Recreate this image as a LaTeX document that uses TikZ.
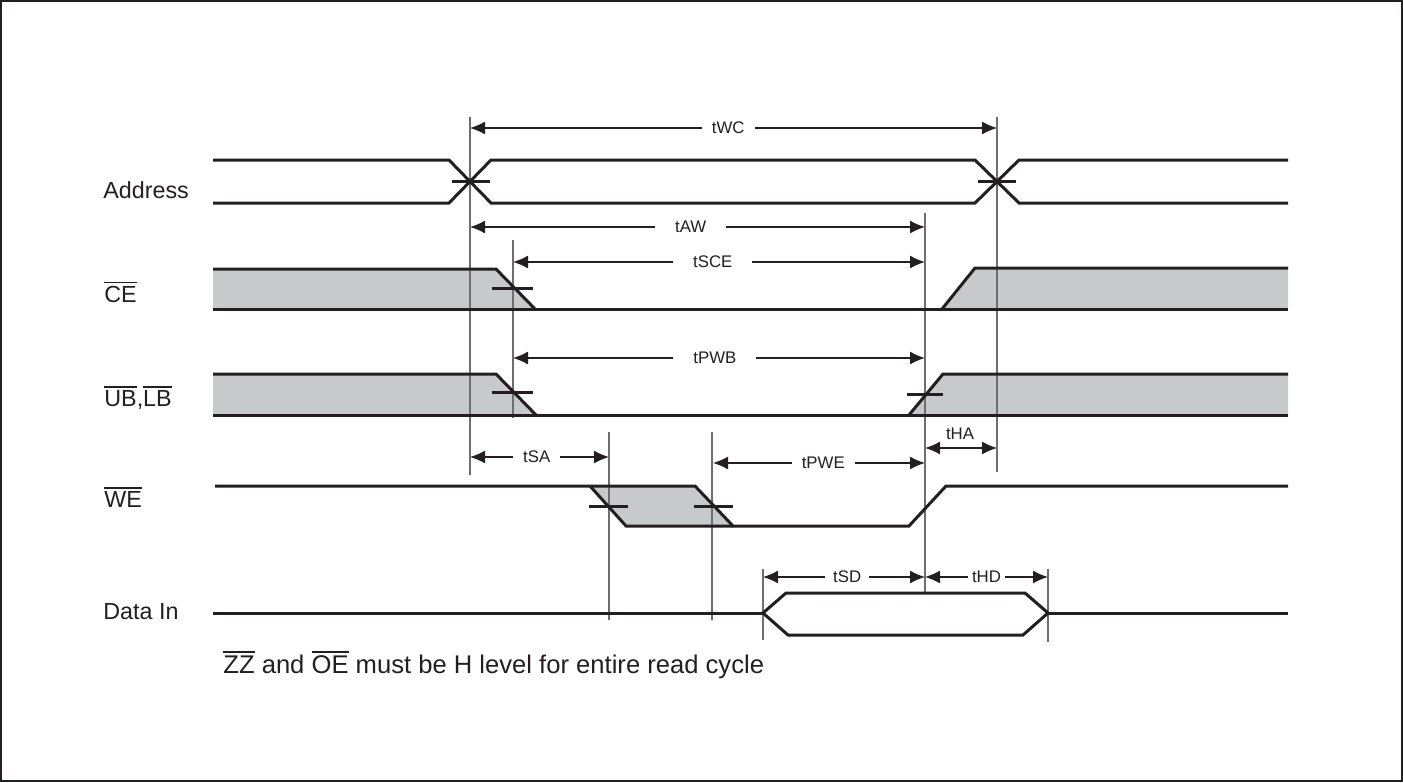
\documentclass[tikz,border=0pt]{standalone}
\usepackage{fontspec}
\setmainfont{Liberation Sans}
\usetikzlibrary{arrows.meta}
\definecolor{sig}{HTML}{231F20}
\definecolor{shadefill}{HTML}{C8C9CB}
\definecolor{guide}{HTML}{6D6E70}
\newcommand{\ovl}[1]{\leavevmode\vbox{\hrule height 0.9pt\kern 1.3pt\hbox{#1}}}
\tikzset{
  wave/.style={draw=sig, line width=1.5pt, line join=miter},
  shd/.style={fill=shadefill},
  tick/.style={draw=sig, line width=1.5pt},
  guideline/.style={draw=guide, line width=0.65pt},
  dim/.style={draw=sig, line width=0.65pt, {Latex[length=7.5pt,width=6.5pt]}-{Latex[length=7.5pt,width=6.5pt]}},
  dimlab/.style={fill=white, inner xsep=5pt, inner ysep=1pt, font=\fontsize{8.4}{10}\selectfont, text=sig},
  siglab/.style={anchor=west, inner sep=0pt, font=\fontsize{11.65}{14}\selectfont, text=sig},
}
\begin{document}
\begin{tikzpicture}[x=0.5pt, y=-0.5pt]
\useasboundingbox (0,0) rectangle (1403,782);
\draw[sig, line width=1pt] (1,1) rectangle (1402,781);

% signal labels
\node[siglab] (lAddr) at (103,190) {Address};
\node[siglab] (lCE) at (104,292) {\ovl{CE}};
\node[siglab] (lUB) at (104,398) {\ovl{UB},\ovl{LB}};
\node[siglab] (lWE) at (104,497) {\ovl{WE}};
\node[siglab] (lDI) at (103,612) {Data In};

% shaded regions
\fill[shd] (213,269) -- (496,269) -- (535,309) -- (213,309) -- cycle;
\fill[shd] (942,309) -- (975,268) -- (1288,268) -- (1288,309) -- cycle;
\fill[shd] (213,374) -- (496,374) -- (536,415) -- (213,415) -- cycle;
\fill[shd] (909,415) -- (943,374) -- (1288,374) -- (1288,415) -- cycle;
\fill[shd] (590,486) -- (695,486) -- (733,526) -- (626,526) -- cycle;

% guide lines
\coordinate (g1t) at (470,117); \coordinate (g1b) at (470,475);
\coordinate (g2t) at (997,117); \coordinate (g2b) at (997,472);
\coordinate (g3t) at (925,213); \coordinate (g3b) at (925,593);
\coordinate (g4t) at (513,240); \coordinate (g4b) at (513,418);
\coordinate (g5t) at (609,432); \coordinate (g5b) at (609,620);
\coordinate (g6t) at (712,432); \coordinate (g6b) at (712,620);
\coordinate (g7t) at (763,569); \coordinate (g7b) at (763,640);
\coordinate (g8t) at (1048,569); \coordinate (g8b) at (1048,642);
\foreach \g in {1,...,8} { \draw[guideline] (g\g t) -- (g\g b); }

% Address
\draw[wave] (213,160) -- (449,160) -- (491,203) -- (975,203) -- (1019,160) -- (1288,160);
\draw[wave] (213,203) -- (449,203) -- (491,160) -- (975,160) -- (1019,203) -- (1288,203);
\draw[tick] (452,181.5) -- (490,181.5);
\draw[tick] (978,181.5) -- (1016,181.5);

% CE
\draw[wave] (213,269) -- (496,269) -- (535,309);
\draw[wave] (213,309) -- (1288,309);
\draw[wave] (942,309) -- (975,268) -- (1288,268);
\draw[tick] (492,288) -- (533,288);

% UB, LB
\draw[wave] (213,374) -- (496,374) -- (536,415);
\draw[wave] (213,415) -- (1288,415);
\draw[wave] (909,415) -- (943,374) -- (1288,374);
\draw[tick] (492,392) -- (533,392);
\draw[tick] (907,394) -- (943,394);

% WE
\draw[wave] (215,486) -- (695,486) -- (733,526) -- (909,526) -- (946,486) -- (1288,486);
\draw[wave] (590,486) -- (626,526) -- (733,526);
\draw[tick] (589,506) -- (628,506);
\draw[tick] (694,506) -- (733,506);

% Data In
\draw[wave] (213,613) -- (763,613);
\draw[wave] (763,613) -- (786,593) -- (1025,593) -- (1048,613) -- (1023,635) -- (788,635) -- cycle;
\draw[wave] (1048,613) -- (1288,613);

% dimension arrows
\coordinate (aWCl) at (470,128); \coordinate (aWCr) at (997,128);
\draw[dim] (aWCl) -- node[dimlab, pos=0.49] (tWC) {tWC} (aWCr);
\coordinate (aAWl) at (470,227); \coordinate (aAWr) at (925,227);
\draw[dim] (aAWl) -- node[dimlab, pos=0.485, inner xsep=10pt] (tAW) {tAW} (aAWr);
\coordinate (aSCEl) at (513,262); \coordinate (aSCEr) at (925,262);
\draw[dim] (aSCEl) -- node[dimlab, pos=0.485, inner xsep=10pt] (tSCE) {tSCE} (aSCEr);
\coordinate (aPWBl) at (513,358); \coordinate (aPWBr) at (925,358);
\draw[dim] (aPWBl) -- node[dimlab, pos=0.49, inner xsep=10pt] (tPWB) {tPWB} (aPWBr);
\coordinate (aSAl) at (470,457); \coordinate (aSAr) at (609,457);
\draw[dim] (aSAl) -- node[dimlab, pos=0.48] (tSA) {tSA} (aSAr);
\coordinate (aPWEl) at (713,463); \coordinate (aPWEr) at (925,463);
\draw[dim] (aPWEl) -- node[dimlab, pos=0.52] (tPWE) {tPWE} (aPWEr);
\coordinate (aHAl) at (925,448); \coordinate (aHAr) at (997,448);
\draw[dim] (aHAl) -- (aHAr);
\node[dimlab, fill=none, inner sep=0pt] (tHA) at (960,434) {tHA};
\coordinate (aSDl) at (763,577); \coordinate (aSDr) at (925,577);
\draw[dim] (aSDl) -- node[dimlab, pos=0.52, inner xsep=4pt] (tSD) {tSD} (aSDr);
\coordinate (aHDl) at (925,577); \coordinate (aHDr) at (1048,577);
\draw[dim] (aHDl) -- node[dimlab, pos=0.5, inner xsep=2pt] (tHD) {tHD} (aHDr);

% note
\node[anchor=west, inner sep=0pt, font=\fontsize{12.8}{15}\selectfont, text=sig] (note) at (223,665)
  {\ovl{ZZ} and \ovl{OE} must be H level for entire read cycle};
\end{tikzpicture}
\end{document}
